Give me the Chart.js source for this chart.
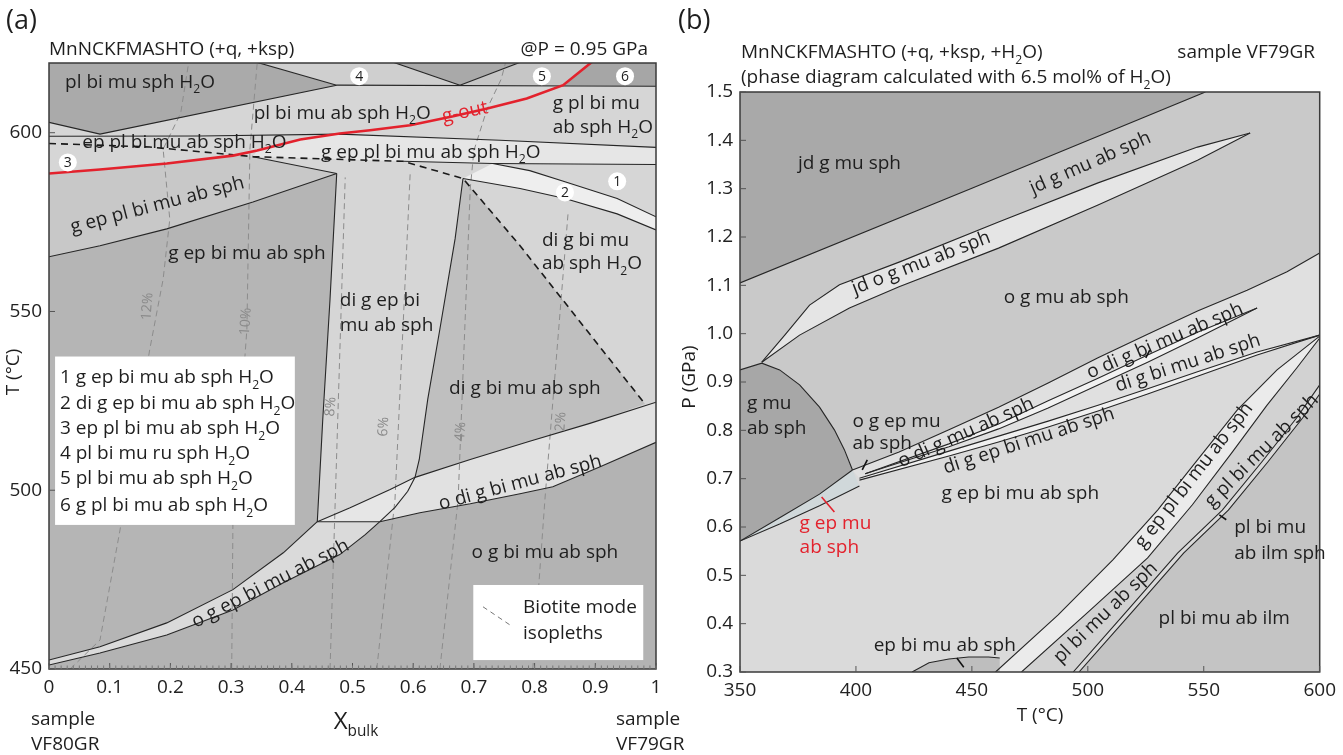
<!DOCTYPE html>
<html>
<head>
<meta charset="utf-8">
<title>Pseudosections</title>
<script src="https://cdn.jsdelivr.net/npm/chart.js@4.4.1/dist/chart.umd.min.js"></script>
<style>
  html, body { margin: 0; padding: 0; background: #fff; }
  body { position: relative; width: 1343px; height: 755px; overflow: hidden; }
  canvas { position: absolute; top: 0; }
  #chart-a { left: 0; }
  #chart-b { left: 670px; }
</style>
</head>
<body>
<canvas id="chart-a" width="700" height="755"></canvas>
<canvas id="chart-b" width="673" height="755"></canvas>
<script>
const FONT = "'Open Sans', 'Noto Sans', sans-serif";
const INK = '#1e1e1e';

// ---------- (a) T–X section at 0.95 GPa ----------
const A_X_TICKS = [0, 0.1, 0.2, 0.3, 0.4, 0.5, 0.6, 0.7, 0.8, 0.9, 1];
const A_X_LABELS = ['0', '0.1', '0.2', '0.3', '0.4', '0.5', '0.6', '0.7', '0.8', '0.9', '1'];
const A_T_TICKS = [450, 500, 550, 600];
const A_T_LABELS = ['450', '500', '550', '600'];
const A_X_MINOR = 0.01;

// phase boundaries, [X bulk, T °C]
const A_TOP4_L = [[0.336, 620], [0.474, 613.3]];
const A_TOP4_R = [[0.562, 620], [0.677, 613.3]];
const A_TOP5 = [[0.677, 613.3], [0.781, 620]];
const A_TOP_87 = [[0.474, 613.3], [1, 613.0]];
const A_TOP_V = [[0, 602.9], [0.084, 599.6], [0.474, 613.3]];
const A_EP_IN = [[0, 599.0], [0.249, 599.1], [0.479, 599.6], [0.743, 597.9], [1, 595.9]];
const A_G_OUT = [[0, 588.6], [0.084, 589.7], [0.194, 591.4], [0.303, 593.6], [0.343, 595.0], [0.414, 598.1],
  [0.479, 599.8], [0.529, 600.7], [0.595, 602.1], [0.666, 604.6], [0.722, 606.8], [0.787, 609.6], [0.847, 613.3], [0.896, 620]];
const A_DASHED = [[0, 597.0], [0.166, 596.0], [0.336, 593.3], [0.583, 592.0], [0.682, 587.2], [0.776, 568.4], [0.88, 546], [0.982, 524.1]];
const A_C1 = [[0.583, 592.0], [0.731, 591.4], [1, 591.1]];
const A_C2 = [[0.731, 591.4], [0.792, 589.4], [0.850, 586.3], [0.936, 581.6], [1, 576.5]];
const A_C3 = [[0.682, 587.2], [0.776, 584.4], [0.850, 581.6], [0.936, 577.3], [1, 572.8]];
const A_WEDGE_TOP = [[0.336, 593.3], [0.474, 588.6]];
const A_WEDGE_LOW = [[0, 565.3], [0.084, 568.4], [0.194, 573.1], [0.336, 580.6], [0.474, 588.6]];
const A_M1 = [[0.474, 588.6], [0.463, 553.5], [0.451, 519.8], [0.442, 491.2]];
const A_M2 = [[0.682, 587.2], [0.669, 570.3], [0.644, 545.1], [0.624, 525.5], [0.610, 508.6], [0.603, 503.6],
  [0.591, 499.7], [0.570, 495.2], [0.545, 491.2]];
const A_ODI_UP = [[0.442, 491.2], [0.496, 495.1], [0.562, 500.2], [0.603, 503.6], [0.694, 508.6], [0.792, 513.7], [0.891, 518.7], [1, 524.6]];
const A_ODI_LOW = [[0.545, 491.2], [0.611, 493.7], [0.694, 496.2], [0.776, 499.0], [0.830, 501.0], [0.908, 506.6], [1, 513.4]];
const A_AB = [[0.442, 491.2], [0.545, 491.2]];
const A_OGEP_UP = [[0, 452.5], [0.084, 456.2], [0.194, 462.9], [0.303, 472.2], [0.386, 482.5], [0.442, 491.2]];
const A_OGEP_LOW = [[0, 451.1], [0.084, 454.5], [0.194, 459.5], [0.303, 466.5], [0.386, 474.1], [0.479, 482.0], [0.521, 487.6], [0.545, 491.2]];

// biotite mode isopleths
const A_ISO = [
  [[0.035, 450], [0.084, 458.1], [0.117, 488.9], [0.166, 539.4], [0.188, 559.0], [0.199, 575.8], [0.188, 595.4], [0.217, 605.5], [0.230, 619.5]],
  [[0.301, 450], [0.303, 490.9], [0.326, 545], [0.331, 595.4], [0.343, 619.5]],
  [[0.463, 450], [0.488, 587.5]],
  [[0.540, 450], [0.570, 497.4], [0.595, 588.6]],
  [[0.644, 450], [0.674, 497.4], [0.694, 584.4], [0.700, 595.0], [0.722, 606.8], [0.745, 615.0], [0.752, 619.5]],
  [[0.797, 450], [0.817, 497.4], [0.855, 577.2]]
];
const A_ISO_TEXT = ['12%', '10%', '8%', '6%', '4%', '2%'];
const A_ISO_AT = [[0.161, 551.4], [0.323, 547.2], [0.463, 523.4], [0.550, 517.8], [0.677, 516.4], [0.842, 519.2]];

const A_FIELD_TEXT = ['pl bi mu sph H{2}O', 'pl bi mu ab sph H{2}O', 'g pl bi mu', 'ab sph H{2}O',
  'ep pl bi mu ab sph H{2}O', 'g ep pl bi mu ab sph H{2}O', 'g ep pl bi mu ab sph', 'g ep bi mu ab sph',
  'di g ep bi', 'mu ab sph', 'di g bi mu', 'ab sph H{2}O', 'di g bi mu ab sph', 'o di g bi mu ab sph',
  'o g ep bi mu ab sph', 'o g bi mu ab sph'];
const A_FIELD_AT = [[0.150, 614.4], [0.483, 605.7], [0.830, 608.5], [0.830, 601.8],
  [0.223, 597.6], [0.629, 594.8], [0.178, 580.0], [0.326, 566.5],
  [0.479, 553.4], [0.479, 546.4], [0.812, 570.2], [0.812, 563.7], [0.784, 528.7], [0.776, 502.4],
  [0.364, 474.1], [0.817, 482.8]];
const A_FIELD_ROT = [0, 0, 0, 0, 0, 0, -14.6, 0, 0, 0, 0, 0, 0, -15, -27, 0];
const A_FIELD_LEFT = [false, false, true, true, false, false, false, false, true, true, true, true, false, false, false, false];

const A_NUMBERS = ['4', '5', '6', '3', '2', '1'];
const A_NUMBER_AT = [[0.511, 615.8], [0.812, 615.8], [0.949, 615.8], [0.031, 591.7], [0.850, 583.3], [0.936, 586.4]];

const A_KEY = ['1 g ep bi mu ab sph H{2}O', '2 di g ep bi mu ab sph H{2}O', '3 ep pl bi mu ab sph H{2}O',
  '4 pl bi mu ru sph H{2}O', '5 pl bi mu ab sph H{2}O', '6 g pl bi mu ab sph H{2}O'];
const A_KEY_T = [531.8, 524.5, 517.5, 510.5, 503.5, 495.9];

// ---------- (b) P–T section, sample VF79GR ----------
const B_T_TICKS = [350, 400, 450, 500, 550, 600];
const B_T_LABELS = ['350', '400', '450', '500', '550', '600'];
const B_P_TICKS = [0.3, 0.4, 0.5, 0.6, 0.7, 0.8, 0.9, 1.0, 1.1, 1.2, 1.3, 1.4, 1.5];
const B_P_LABELS = ['0.3', '0.4', '0.5', '0.6', '0.7', '0.8', '0.9', '1.0', '1.1', '1.2', '1.3', '1.4', '1.5'];

// phase boundaries, [T °C, P GPa]
const B_JD = [[350, 1.105], [450, 1.301], [550.7, 1.5]];
const B_LENS_U = [[359.4, 0.941], [369.3, 0.997], [380, 1.059], [392.9, 1.101], [418.6, 1.148], [461.5, 1.231], [504.4, 1.312], [547.3, 1.386], [570, 1.415]];
const B_LENS_L = [[359.4, 0.941], [375.7, 0.997], [397.2, 1.053], [418.6, 1.097], [461.5, 1.177], [504.4, 1.266], [547.3, 1.359], [570, 1.415]];
const B_ARC = [[350, 0.925], [359.4, 0.939], [367.1, 0.925], [375.7, 0.894], [384.3, 0.848], [390.7, 0.801], [395, 0.760], [398.5, 0.718]];
const B_SLIVER_U = [[350, 0.571], [367.1, 0.619], [384.3, 0.668], [398.5, 0.718]];
const B_SLIVER_L = [[350, 0.571], [367.1, 0.606], [384.3, 0.644], [401.5, 0.685]];
const B_F1 = [[398.5, 0.718], [418.6, 0.755], [440.1, 0.801], [461.5, 0.848], [482.9, 0.898], [504.4, 0.950], [525.8, 0.999], [547.3, 1.047], [568.7, 1.090], [585.9, 1.128], [600, 1.167]];
const B_L2_U = [[404.0, 0.710], [440.1, 0.772], [461.5, 0.813], [482.9, 0.861], [504.4, 0.908], [525.8, 0.956], [547.3, 1.003], [573.0, 1.053]];
const B_L2_L = [[404.0, 0.710], [440.1, 0.766], [461.5, 0.803], [482.9, 0.846], [504.4, 0.894], [525.8, 0.941], [547.3, 0.991], [573.0, 1.053]];
const B_F3 = [[401.5, 0.701], [440.1, 0.757], [461.5, 0.788], [482.9, 0.819], [504.4, 0.852], [525.8, 0.886], [547.3, 0.921], [573.0, 0.962], [600, 0.997]];
const B_F4 = [[401.5, 0.697], [440.1, 0.747], [461.5, 0.776], [482.9, 0.807], [504.4, 0.840], [525.8, 0.875], [547.3, 0.912], [573.0, 0.956], [600, 0.997]];
const B_SA = [[460.2, 0.3], [487.2, 0.418], [510.8, 0.532], [530.1, 0.635], [547.3, 0.739], [564.4, 0.842], [581.6, 0.925], [600, 0.995]];
const B_SB = [[471.4, 0.3], [500.1, 0.424], [525.8, 0.536], [545.1, 0.646], [562.3, 0.755], [577.3, 0.852], [590.1, 0.929], [600, 0.991]];
const B_SD = [[493.7, 0.3], [517.2, 0.428], [538.7, 0.546], [558.0, 0.635], [575.1, 0.735], [590.1, 0.826], [600, 0.894]];
const B_SE = [[496.2, 0.3], [519.8, 0.428], [541.3, 0.546], [560.6, 0.635], [577.7, 0.735], [592.7, 0.826], [600, 0.875]];
const B_DOME = [[424.2, 0.3], [431.5, 0.319], [440.1, 0.327], [448.6, 0.331], [457.2, 0.331], [462, 0.329]];
const B_TICKS_MARK = [
  [[402.7, 0.718], [404.9, 0.739]],
  [[526.7, 0.966], [525.0, 0.950]],
  [[443.5, 0.329], [446.5, 0.310]],
  [[556.7, 0.625], [559.7, 0.615]]
];
const B_RED_MARK = [[385.2, 0.662], [390.7, 0.631]];

const B_FIELD_TEXT = ['jd g mu sph', 'jd g mu ab sph', 'jd o g mu ab sph', 'o g mu ab sph', 'g mu', 'ab sph',
  'o g ep mu', 'ab sph', 'o di g mu ab sph', 'di g ep bi mu ab sph', 'o di g bi mu ab sph', 'di g bi mu ab sph',
  'g ep bi mu ab sph', 'g ep pl bi mu ab sph', 'g pl bi mu ab sph', 'pl bi mu', 'ab ilm sph', 'pl bi mu ab sph',
  'pl bi mu ab ilm', 'ep bi mu ab sph'];
const B_FIELD_AT = [[397.2, 1.355], [500.9, 1.355], [428.0, 1.148], [490.7, 1.076], [353.0, 0.857], [353.0, 0.805],
  [398.5, 0.821], [398.5, 0.774], [447.3, 0.797], [474.4, 0.780], [533.1, 0.987], [543.0, 0.941],
  [470.9, 0.672], [545.5, 0.708], [574.7, 0.759], [563.1, 0.600], [563.1, 0.548], [507.4, 0.424],
  [558.8, 0.412], [438.3, 0.356]];
const B_FIELD_ROT = [0, -23.7, -21, 0, 0, 0, 0, 0, -24, -18, -23, -18, 0, -52, -45, 0, 0, -44, 0, 0];
const B_FIELD_LEFT = [false, false, false, false, true, true, true, true, false, false, false, false,
  false, false, false, true, true, false, false, false];
const B_RED_TEXT = ['g ep mu', 'ab sph'];
const B_RED_AT = [[375.7, 0.610], [375.7, 0.559]];

// ---------- helpers ----------
const xy = pts => pts.map(p => ({ x: p[0], y: p[1] }));
const rev = pts => pts.slice().reverse();
const join = (...parts) => [].concat(...parts);

function area(pts, color) {
  return { data: xy(pts), fill: 'shape', backgroundColor: color, borderColor: 'transparent', borderWidth: 0, pointRadius: 0, tension: 0 };
}
function edge(pts, color, width, dash) {
  return { data: xy(pts), fill: false, borderColor: color, borderWidth: width, borderDash: dash || [], pointRadius: 0, tension: 0 };
}

// text with {..} marking a subscript run
function drawRich(ctx, text, px, py, o) {
  const size = o.size || 19;
  const parts = [];
  text.split(/(\{[^}]*\})/).forEach(s => {
    if (!s) return;
    if (s[0] === '{') parts.push({ t: s.slice(1, -1), sub: true });
    else parts.push({ t: s, sub: false });
  });
  let w = 0;
  parts.forEach(p => {
    ctx.font = (p.sub ? size * 0.64 : size) + 'px ' + FONT;
    p.w = ctx.measureText(p.t).width;
    w += p.w;
  });
  ctx.save();
  ctx.translate(px, py);
  if (o.rot) ctx.rotate(o.rot * Math.PI / 180);
  ctx.fillStyle = o.color || INK;
  ctx.textBaseline = 'alphabetic';
  ctx.textAlign = 'left';
  let x0 = o.align === 'left' ? 0 : o.align === 'right' ? -w : -w / 2;
  const base = size * 0.34;
  parts.forEach(p => {
    ctx.font = (p.sub ? size * 0.64 : size) + 'px ' + FONT;
    ctx.fillText(p.t, x0, base + (p.sub ? size * 0.3 : 0));
    x0 += p.w;
  });
  ctx.restore();
}

// frame, inward ticks, keys, field names and outer text
function annotations(spec) {
  return {
    id: 'annotations',
    afterDatasetsDraw(chart) {
      const { ctx, chartArea: a, scales: { x, y } } = chart;
      const X = v => x.getPixelForValue(v);
      const Y = v => y.getPixelForValue(v);
      ctx.save();

      (spec.boxes || []).forEach(b => {
        ctx.fillStyle = '#fff';
        ctx.fillRect(X(b[0]), Y(b[3]), X(b[2]) - X(b[0]), Y(b[1]) - Y(b[3]));
      });
      (spec.keyDash || []).forEach(seg => {
        ctx.strokeStyle = '#777';
        ctx.lineWidth = 1;
        ctx.setLineDash([5, 4]);
        ctx.beginPath();
        ctx.moveTo(X(seg[0][0]), Y(seg[0][1]));
        ctx.lineTo(X(seg[1][0]), Y(seg[1][1]));
        ctx.stroke();
        ctx.setLineDash([]);
      });

      (spec.labels || []).forEach(l => drawRich(ctx, l.t, X(l.at[0]), Y(l.at[1]), l));

      (spec.numbers || []).forEach(n => {
        const cx = X(n.at[0]), cy = Y(n.at[1]);
        ctx.fillStyle = '#fff';
        ctx.beginPath();
        ctx.arc(cx, cy, 9, 0, Math.PI * 2);
        ctx.fill();
        drawRich(ctx, n.t, cx, cy, { size: 14 });
      });

      ctx.strokeStyle = '#3a3a3a';
      ctx.lineWidth = 1.5;
      ctx.strokeRect(a.left, a.top, a.width, a.height);

      ctx.strokeStyle = '#555';
      ctx.lineWidth = 1;
      x.ticks.forEach(t => {
        const px = X(t.value);
        ctx.beginPath(); ctx.moveTo(px, a.bottom); ctx.lineTo(px, a.bottom - 6); ctx.stroke();
      });
      y.ticks.forEach(t => {
        const py = Y(t.value);
        ctx.beginPath(); ctx.moveTo(a.left, py); ctx.lineTo(a.left + 6, py); ctx.stroke();
      });
      if (spec.xMinor) {
        ctx.strokeStyle = '#777';
        for (let v = x.min; v <= x.max + 1e-9; v += spec.xMinor) {
          const px = X(v);
          ctx.beginPath(); ctx.moveTo(px, a.bottom); ctx.lineTo(px, a.bottom - 3.5); ctx.stroke();
        }
      }

      (spec.outer || []).forEach(l => drawRich(ctx, l.t, l.px, l.py, l));
      ctx.restore();
    }
  };
}

function axis(min, max, ticks, labels, fit) {
  return {
    type: 'linear', min, max,
    grid: { display: false, drawTicks: false },
    border: { display: false },
    afterBuildTicks: s => { s.ticks = ticks.map(v => ({ value: v })); },
    afterFit: fit,
    ticks: {
      autoSkip: false, maxRotation: 0, padding: 7, color: '#222',
      font: { family: FONT, size: 19 },
      callback: (v, i) => labels[i]
    }
  };
}

function makeChart(id, datasets, xAxis, yAxis, padding, plugin) {
  const n = datasets.length;
  datasets.forEach((d, i) => { d.order = n - i; });
  return new Chart(document.getElementById(id), {
    type: 'line',
    data: { datasets },
    options: {
      responsive: false, animation: false, devicePixelRatio: 1,
      layout: { padding },
      plugins: { legend: { display: false }, tooltip: { enabled: false } },
      scales: { x: xAxis, y: yAxis }
    },
    plugins: [plugin]
  });
}

// ---------- panel (a) ----------
function buildA() {
  const line = pts => edge(pts, '#262626', 1.1);
  const sets = [
    area([[0, 450], [1, 450], [1, 620], [0, 620]], '#d6d6d6'),
    area([[0, 620], [0.336, 620], [0.474, 613.3], [0.084, 599.6], [0, 602.9]], '#aaaaaa'),
    area([[0.336, 620], [0.562, 620], [0.677, 613.3], [0.474, 613.3]], '#cfcfcf'),
    area([[0.562, 620], [0.781, 620], [0.677, 613.3]], '#a9a9a9'),
    area([[0.781, 620], [0.896, 620], [0.847, 613.3], [0.677, 613.3]], '#c6c6c6'),
    area([[0.896, 620], [1, 620], [1, 613.0], [0.847, 613.3]], '#a6a6a6'),
    area(join([[0.336, 593.3]], A_G_OUT.slice(4, 7), A_EP_IN.slice(3), rev(A_C1)), '#e6e6e6'),
    area(join(A_C2, rev(A_C3)), '#eeeeee'),
    area(join(A_G_OUT.slice(0, 4), A_WEDGE_TOP, rev(A_WEDGE_LOW)), '#c8c8c8'),
    area(join(A_WEDGE_LOW, A_M1.slice(1), rev(A_OGEP_UP)), '#b5b5b5'),
    area(join(A_M2.slice(0, 6), A_ODI_UP.slice(4, 7), rev(A_DASHED.slice(4))), '#bfbfbf'),
    area(join([[0, 450], [0, 451.1]], A_OGEP_LOW.slice(1), A_ODI_LOW.slice(1), [[1, 450]]), '#b3b3b3'),
    area(join(A_OGEP_UP, rev(A_OGEP_LOW)), '#dadada'),
    area(join(A_ODI_UP.slice(3), rev(A_ODI_LOW), rev(A_M2.slice(6, 8))), '#e1e1e1'),
    area(join(A_ODI_UP.slice(0, 4), A_M2.slice(6)), '#e6e6e6')
  ];
  A_ISO.forEach(pts => sets.push(edge(pts, '#8c8c8c', 1, [6, 4])));
  [A_TOP4_L, A_TOP4_R, A_TOP5, A_TOP_87, A_TOP_V, A_EP_IN, A_C1, A_C2, A_C3, A_WEDGE_TOP, A_WEDGE_LOW,
    A_M1, A_M2, A_ODI_UP, A_ODI_LOW, A_AB, A_OGEP_UP, A_OGEP_LOW].forEach(pts => sets.push(line(pts)));
  sets.push(edge(A_DASHED, '#1a1a1a', 1.6, [7, 5]));
  sets.push(edge(A_G_OUT, '#e3222d', 2.6));

  const labels = A_FIELD_TEXT.map((t, i) => ({
    t, at: A_FIELD_AT[i], rot: A_FIELD_ROT[i], align: A_FIELD_LEFT[i] ? 'left' : 'center'
  }));
  labels.push({ t: 'g-out', at: [0.685, 606.0], rot: -12, color: '#e3222d' });
  A_ISO_TEXT.forEach((t, i) => labels.push({ t, at: A_ISO_AT[i], rot: -86, size: 14, color: '#8a8a8a' }));
  A_KEY.forEach((t, i) => labels.push({ t, at: [0.018, A_KEY_T[i]], align: 'left' }));
  labels.push({ t: 'Biotite mode', at: [0.781, 467.4], align: 'left' });
  labels.push({ t: 'isopleths', at: [0.781, 460.1], align: 'left' });

  const plugin = annotations({
    boxes: [[0.010, 490.3, 0.405, 537.4], [0.699, 452.5, 0.979, 473.5]],
    keyDash: [[[0.715, 467.4], [0.764, 461.8]]],
    labels,
    xMinor: A_X_MINOR,
    numbers: A_NUMBERS.map((t, i) => ({ t, at: A_NUMBER_AT[i] })),
    outer: [
      { t: '(a)', px: 6, py: 20, align: 'left', size: 27 },
      { t: 'MnNCKFMASHTO (+q, +ksp)', px: 49, py: 49, align: 'left' },
      { t: '@P = 0.95 GPa', px: 648, py: 49, align: 'right' },
      { t: 'T (°C)', px: 13, py: 372, rot: -90 },
      { t: 'X{bulk}', px: 356, py: 721, size: 24 },
      { t: 'sample', px: 31, py: 719, align: 'left' },
      { t: 'VF80GR', px: 31, py: 744, align: 'left' },
      { t: 'sample', px: 616, py: 719, align: 'left' },
      { t: 'VF79GR', px: 616, py: 744, align: 'left' }
    ]
  });

  makeChart('chart-a', sets,
    axis(0, 1, A_X_TICKS, A_X_LABELS, s => { s.height = 40; }),
    axis(450, 619.5, A_T_TICKS, A_T_LABELS, s => { s.width = 49; }),
    { left: 0, right: 44, top: 63, bottom: 46 }, plugin);
}

// ---------- panel (b) ----------
function buildB() {
  const line = pts => edge(pts, '#262626', 1.1);
  const sets = [
    area([[350, 0.3], [600, 0.3], [600, 1.5], [350, 1.5]], '#dadada'),
    area(join([[350, 0.925]], B_JD, [[600, 1.5]], rev(B_F1), rev(B_ARC.slice(1))), '#c9c9c9'),
    area(join(B_JD, [[350, 1.5]]), '#a9a9a9'),
    area(join(B_LENS_U, rev(B_LENS_L)), '#e5e5e5'),
    area(join(B_ARC, rev(B_SLIVER_U)), '#a7a7a7'),
    area(join(B_SLIVER_U, rev(B_SLIVER_L)), '#d0d8da'),
    area(join(B_F1, rev(B_F3)), '#e0e0e0'),
    area(join(B_L2_U, rev(B_L2_L)), '#f2f2f2'),
    area(join(B_F3, rev(B_F4)), '#f0f0f0'),
    area(join(B_SA, rev(B_SB)), '#ebebeb'),
    area(join(B_SB, [[600, 0.894]], rev(B_SD)), '#d2d2d2'),
    area(join(B_SE, [[600, 0.3]]), '#c4c4c4'),
    area(join(B_DOME, [[462, 0.3]]), '#bebebe')
  ];
  [B_JD, B_LENS_U, B_LENS_L, B_ARC, B_SLIVER_U, B_SLIVER_L, B_F1, B_L2_U, B_L2_L, B_F3, B_F4,
    B_SA, B_SB, B_SD, B_SE, B_DOME].forEach(pts => sets.push(line(pts)));
  B_TICKS_MARK.forEach(pts => sets.push(edge(pts, '#111', 1.6)));
  sets.push(edge(B_RED_MARK, '#e3222d', 1.6));

  const labels = B_FIELD_TEXT.map((t, i) => ({
    t, at: B_FIELD_AT[i], rot: B_FIELD_ROT[i], align: B_FIELD_LEFT[i] ? 'left' : 'center'
  }));
  B_RED_TEXT.forEach((t, i) => labels.push({ t, at: B_RED_AT[i], align: 'left', color: '#e3222d' }));

  const plugin = annotations({
    labels,
    outer: [
      { t: '(b)', px: 8, py: 20, align: 'left', size: 27 },
      { t: 'MnNCKFMASHTO (+q, +ksp, +H{2}O)', px: 71, py: 52, align: 'left' },
      { t: '(phase diagram calculated with 6.5 mol% of H{2}O)', px: 71, py: 77, align: 'left' },
      { t: 'sample VF79GR', px: 645, py: 52, align: 'right' },
      { t: 'P (GPa)', px: 19, py: 377, rot: -90 },
      { t: 'T (°C)', px: 370, py: 715 }
    ]
  });

  makeChart('chart-b', sets,
    axis(350, 600, B_T_TICKS, B_T_LABELS, s => { s.height = 40; }),
    axis(0.3, 1.5, B_P_TICKS, B_P_LABELS, s => { s.width = 70; }),
    { left: 0, right: 20, top: 92, bottom: 43 }, plugin);
}

buildA();
buildB();
</script>
</body>
</html>
